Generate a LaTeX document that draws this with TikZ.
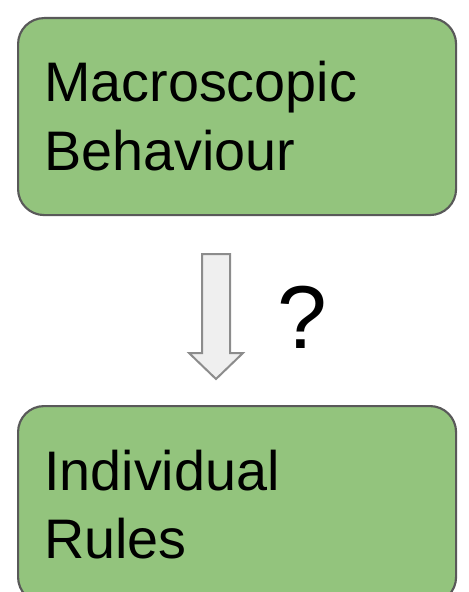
\documentclass[tikz,border=0pt]{standalone}
\usepackage{fontspec}
\setmainfont{Liberation Sans}
\definecolor{boxgreen}{HTML}{93C47D}
\definecolor{boxline}{HTML}{595959}
\definecolor{arrowfill}{HTML}{EFEFEF}
\definecolor{arrowline}{HTML}{8C8C8C}
\begin{document}
\begin{tikzpicture}[x=0.75pt,y=-0.75pt,
  greenbox/.style={draw=boxline, line width=1.6pt, fill=boxgreen, rounded corners=19.5pt,
    rectangle, minimum width=328.5pt, minimum height=147.75pt, inner sep=0pt, anchor=north west},
  boxtext/.style={anchor=base west, inner sep=0pt, font=\fontsize{41.8pt}{51pt}\selectfont},
  blockarrow/.style={draw=arrowline, fill=arrowfill, line width=1.5pt, line join=miter},
  qtext/.style={anchor=base, inner sep=0pt, font=\fontsize{67pt}{80pt}\selectfont}]
\useasboundingbox (0,0) rectangle (468,592);
\node[greenbox] (top) at (17,17) {};
\node[greenbox] (bottom) at (17,405) {};
\node[boxtext] (t1) at (44,101.7) {Macroscopic};
\node[boxtext] (t2) at (44,170) {Behaviour};
\node[boxtext] (b1) at (44,490.7) {Individual};
\node[boxtext] (b2) at (44,558.5) {Rules};
\draw[blockarrow] (202,254) -- (230,254) -- (230,353) -- (243,353) -- (216,379) -- (189,353) -- (202,353) -- cycle;
\node[qtext] (q) at (302,348) {?};
\end{tikzpicture}
\end{document}
